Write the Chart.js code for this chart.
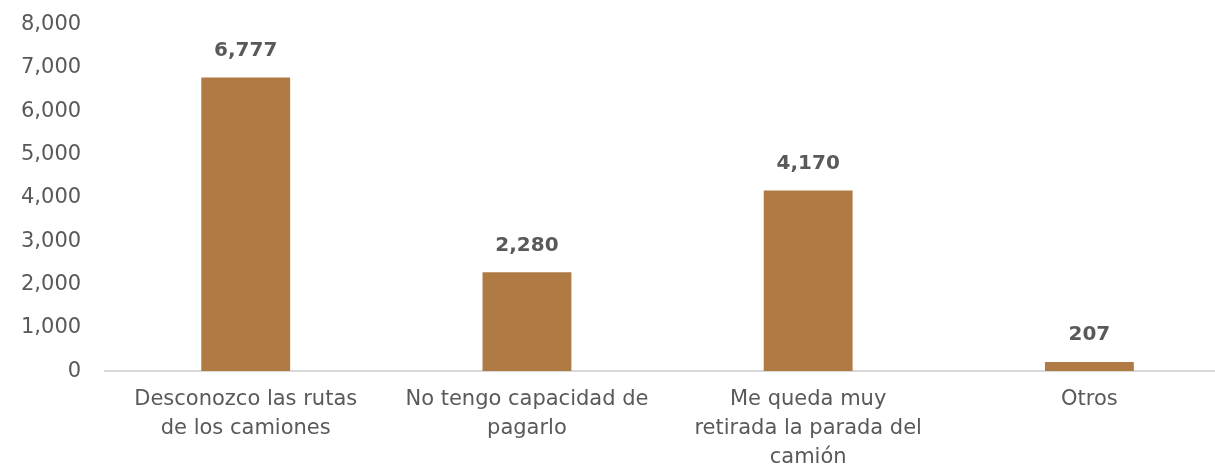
<!DOCTYPE html>
<html>
<head>
<meta charset="utf-8">
<script src="https://cdn.jsdelivr.net/npm/chart.js@4"></script>
<style>
    html, body { margin: 0; padding: 0; background: #fff; overflow: hidden; }
    #wrap { position: relative; top: -12px; width: 1230px; height: 480px; }
</style>
</head>
<body>
<div id="wrap"><canvas id="chart"></canvas></div>
<script>
// Categories (wrapped as in the original)
const categories = [
    ["Desconozco las rutas", "de los camiones"],
    ["No tengo capacidad de", "pagarlo"],
    ["Me queda muy", "retirada la parada del", "camión"],
    ["Otros"],
];
const values = [6777, 2280, 4170, 207];
const yTicks = [0, 1000, 2000, 3000, 4000, 5000, 6000, 7000, 8000];

const barColor = "#B07A45";
const textColor = "#595959";
const fontFamily = "'DejaVu Sans', 'Open Sans', sans-serif";

// Draws the value above each bar.
const valueLabels = {
    id: "valueLabels",
    afterDatasetsDraw(chart) {
        const ctx = chart.ctx;
        const meta = chart.getDatasetMeta(0);
        ctx.save();
        ctx.font = "bold 20px " + fontFamily;
        ctx.fillStyle = textColor;
        ctx.textAlign = "center";
        ctx.textBaseline = "middle";
        meta.data.forEach((bar, i) => {
            ctx.fillText(values[i].toLocaleString("en-US"), bar.x, bar.y - 27);
        });
        ctx.restore();
    },
};

new Chart(document.getElementById("chart"), {
    type: "bar",
    data: {
        labels: categories,
        datasets: [
            {
                data: values,
                backgroundColor: barColor,
                barPercentage: 0.316,
                categoryPercentage: 1,
            },
        ],
    },
    options: {
        responsive: true,
        maintainAspectRatio: false,
        animation: false,
        layout: { padding: { top: -12, left: -3, right: 0, bottom: -18 } },
        plugins: {
            legend: { display: false },
            tooltip: { enabled: false },
        },
        scales: {
            x: {
                grid: { display: false, drawTicks: false },
                border: { display: true, color: "#d9d9d9", width: 2 },
                ticks: {
                    color: textColor,
                    font: { family: fontFamily, size: 21, lineHeight: 1.38 },
                    maxRotation: 0,
                    autoSkip: false,
                    padding: 14,
                },
            },
            y: {
                min: 0,
                max: 8000,
                afterBuildTicks(axis) {
                    axis.ticks = yTicks.map((v) => ({ value: v }));
                },
                grid: { display: false, drawTicks: false },
                border: { display: false },
                ticks: {
                    color: textColor,
                    font: { family: fontFamily, size: 21 },
                    padding: 24,
                    callback: (v) => v.toLocaleString("en-US"),
                },
            },
        },
    },
    plugins: [valueLabels],
});
</script>
</body>
</html>
